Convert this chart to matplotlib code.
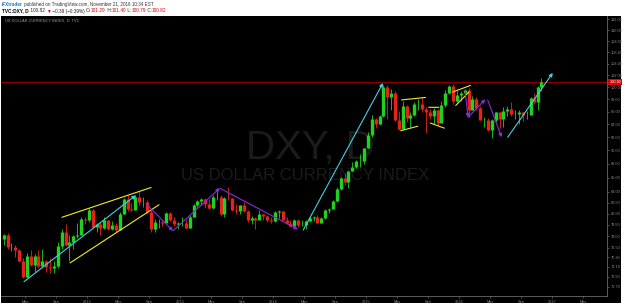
import matplotlib
matplotlib.use("Agg")
import matplotlib.pyplot as plt
from matplotlib.patches import Rectangle
from matplotlib.ticker import FixedLocator, NullLocator, StrMethodFormatter
import matplotlib.transforms as mtransforms
import numpy as np
import pandas as pd

plt.rcParams['font.family'] = ['Liberation Sans', 'DejaVu Sans']

# ---- data: semi-monthly DXY candles, Feb 2011 .. Nov 21 2016 ----
first_bar = "2011-02-01"
last_bar = "2016-11-21"
first_open = 77.7

closes_2011 = [78.2, 76.6, 76.6, 76.2, 74.9, 72.9, 75.5, 74.3, 75.5, 74.2, 74.8, 74.1,
               74.0, 74.2, 76.7, 78.5, 76.9, 77.2, 78.0, 78.2, 80.3, 80.2]
highs_2011 = [78.3, 78.4, 77.1, 76.9, 76.4, 75.2, 75.9, 76.2, 75.7, 76.2, 76.3, 75.0,
              75.2, 74.8, 77.3, 78.9, 79.6, 78.2, 78.2, 79.8, 80.6, 80.6]
lows_2011 = [76.9, 76.3, 76.1, 75.3, 74.7, 72.8, 72.7, 74.2, 73.5, 74.0, 74.2, 73.5,
             73.4, 73.4, 74.0, 76.3, 76.7, 74.9, 76.3, 77.8, 78.1, 79.6]

closes_2012 = [81.5, 79.2, 79.6, 79.1, 80.1, 78.9, 79.5, 78.8, 81.0, 83.0, 81.6, 81.5,
               83.3, 82.6, 82.6, 81.2, 78.9, 79.9, 79.9, 79.8, 81.1, 80.1, 79.6, 79.8]
highs_2012 = [81.8, 81.6, 79.8, 79.9, 80.5, 80.1, 80.0, 79.7, 81.2, 83.2, 83.5, 82.5,
              83.6, 84.1, 83.3, 82.8, 81.5, 80.3, 80.3, 80.2, 81.2, 81.2, 80.5, 79.9]
lows_2012 = [79.9, 79.1, 78.6, 78.1, 78.9, 78.8, 78.8, 78.6, 78.8, 80.9, 81.4, 81.3,
             81.5, 82.1, 81.9, 81.0, 78.6, 78.6, 79.1, 79.3, 79.9, 80.0, 79.4, 79.0]

closes_2013 = [79.8, 79.1, 80.6, 82.2, 82.7, 83.0, 82.3, 81.8, 83.3, 83.3, 80.9, 83.2,
               83.1, 81.5, 81.3, 82.1, 81.4, 80.2, 80.4, 80.2, 80.9, 80.7, 80.1, 80.0]
highs_2013 = [80.6, 80.2, 80.8, 82.3, 82.9, 83.2, 83.1, 83.0, 83.5, 84.5, 83.5, 83.3,
              84.7, 83.2, 82.3, 82.2, 82.6, 81.5, 80.7, 80.6, 81.5, 81.0, 80.8, 80.6]
lows_2013 = [79.3, 79.0, 79.1, 80.5, 81.9, 82.2, 81.8, 81.6, 81.6, 82.8, 80.7, 80.5,
             82.8, 81.4, 80.9, 81.0, 81.2, 79.9, 79.6, 79.0, 80.1, 80.2, 79.9, 79.8]

closes_2014 = [81.2, 81.3, 80.2, 79.7, 79.4, 80.1, 79.5, 79.5, 80.0, 80.4, 80.6, 79.8,
               80.4, 81.5, 81.6, 82.7, 84.4, 86.0, 85.4, 86.9, 87.6, 88.4, 88.4, 90.3]
highs_2014 = [81.4, 81.5, 81.4, 80.5, 80.2, 80.3, 80.3, 80.1, 80.1, 80.6, 80.7, 80.8,
              80.5, 81.6, 81.8, 82.8, 84.6, 86.1, 86.7, 87.0, 88.2, 88.5, 89.5, 90.3]
lows_2014 = [79.9, 80.4, 80.1, 79.6, 79.2, 79.3, 79.2, 79.3, 78.9, 79.9, 80.0, 79.7,
             79.8, 80.3, 81.1, 81.6, 82.6, 84.3, 85.0, 84.5, 86.9, 87.4, 87.6, 88.0]

closes_2015 = [92.4, 94.8, 94.1, 95.3, 100.0, 98.4, 99.0, 94.6, 93.2, 96.9, 95.0, 95.5,
               97.3, 97.3, 96.5, 96.0, 95.3, 96.3, 94.2, 97.0, 99.0, 100.2, 97.8, 98.7]
highs_2015 = [92.8, 95.5, 95.0, 95.4, 100.4, 100.3, 99.7, 99.3, 96.1, 97.8, 97.0, 95.9,
              97.5, 98.0, 98.3, 96.8, 96.5, 96.6, 96.5, 97.7, 99.5, 100.3, 100.5, 99.3]
lows_2015 = [90.3, 92.0, 93.4, 93.9, 95.2, 94.8, 96.2, 94.5, 93.1, 93.4, 94.3, 93.5,
             95.3, 96.3, 95.9, 92.6, 94.9, 94.1, 93.8, 94.3, 96.7, 98.9, 97.2, 97.5]

closes_2016 = [99.0, 99.6, 96.2, 98.1, 96.6, 94.6, 94.6, 93.1, 94.7, 95.9, 94.8, 96.1,
               96.5, 95.6, 95.7, 96.0, 95.4, 95.5, 98.2, 97.5, 100.0, 100.82]
highs_2016 = [99.4, 99.7, 99.9, 98.6, 98.3, 96.9, 95.1, 95.0, 94.9, 95.9, 95.9, 96.7,
              96.9, 97.6, 96.2, 96.2, 96.0, 96.1, 98.4, 99.1, 100.2, 101.5]
lows_2016 = [97.8, 98.3, 95.2, 96.2, 96.2, 94.6, 93.6, 93.0, 91.9, 94.4, 93.4, 93.6,
             95.3, 95.3, 94.8, 94.1, 94.5, 94.9, 95.4, 97.3, 96.3, 99.4]

last_price = 100.82
price_ticks = [112, 110, 108, 106, 104, 102, 100, 98, 96, 94, 92, 90, 88, 86, 84,
               82.5, 81, 79.5, 78, 76.5, 75.3, 74.1, 72.9, 71.7]
time_ticks = ["2011-05-01", "2011-09-01", "2012-01-01", "2012-05-01", "2012-09-01",
              "2013-01-01", "2013-05-01", "2013-09-01", "2014-01-01", "2014-05-01",
              "2014-09-01", "2015-01-01", "2015-05-01", "2015-09-01", "2016-01-01",
              "2016-05-01", "2016-09-01", "2017-01-01", "2017-05-01"]
time_labels = ["May", "Sep", "2012", "May", "Sep", "2013", "May", "Sep", "2014", "May",
               "Sep", "2015", "May", "Sep", "2016", "May", "Sep", "2017", "May"]

# drawings on the chart: (date, price) vertices
cyan_1 = [("2011-04-27", 72.3), ("2012-07-10", 83.5)]
yellow_up = [("2011-09-24", 80.5), ("2012-09-09", 84.6)]
yellow_low = [("2011-10-26", 74.6), ("2012-10-10", 82.2)]
purple_1 = [("2012-08-24", 82.2), ("2012-12-04", 78.7), ("2013-06-05", 84.5), ("2014-04-07", 78.9)]
cyan_2 = [("2014-04-28", 78.8), ("2015-03-07", 100.7)]
yellow_a_up = [("2015-05-19", 97.9), ("2015-08-22", 98.3)]
yellow_a_low = [("2015-05-16", 93.0), ("2015-07-22", 93.7)]
yellow_b_up = [("2015-09-04", 96.7), ("2015-10-13", 96.7)]
yellow_b_low = [("2015-09-10", 94.2), ("2015-11-04", 93.4)]
yellow_c_up = [("2015-12-07", 99.2), ("2016-02-15", 100.3)]
yellow_c_low = [("2015-12-19", 97.0), ("2016-02-09", 99.2)]
purple_2a = [("2016-01-25", 99.5), ("2016-02-06", 95.1), ("2016-04-13", 98.0)]
purple_2b = [("2016-04-22", 97.9), ("2016-06-16", 92.0)]
cyan_3 = [("2016-07-10", 92.0), ("2017-01-04", 102.4)]

CYAN, YELLOW, PURPLE = "#3fd3e8", "#f2ea2a", "#8a2be2"
drawings = [(CYAN, cyan_1, True), (YELLOW, yellow_up, False), (YELLOW, yellow_low, False),
            (PURPLE, purple_1, True), (CYAN, cyan_2, True),
            (YELLOW, yellow_a_up, False), (YELLOW, yellow_a_low, False),
            (YELLOW, yellow_b_up, False), (YELLOW, yellow_b_low, False),
            (YELLOW, yellow_c_up, False), (YELLOW, yellow_c_low, False),
            (PURPLE, purple_2a, True), (PURPLE, purple_2b, True), (CYAN, cyan_3, True)]


def month_pos(d):
    d = pd.Timestamp(d)
    return (d.year - 2011) * 12 + d.month - 1 + (d.day - 1) / d.days_in_month


closes = closes_2011 + closes_2012 + closes_2013 + closes_2014 + closes_2015 + closes_2016
highs = highs_2011 + highs_2012 + highs_2013 + highs_2014 + highs_2015 + highs_2016
lows = lows_2011 + lows_2012 + lows_2013 + lows_2014 + lows_2015 + lows_2016
opens = [first_open] + closes[:-1]

starts = pd.date_range(first_bar, periods=len(closes), freq="SMS")
left = np.array([month_pos(d) for d in starts])
right = np.append(left[1:], month_pos(last_bar))
x = (left + right) / 2

W, H = 625, 306
fig = plt.figure(figsize=(W / 100, H / 100), dpi=100, facecolor="white")

# black chart background
fig.add_artist(Rectangle((1 / W, 3 / H), 620 / W, 287 / H, transform=fig.transFigure,
                         facecolor="black", edgecolor="none", zorder=0))

ax = fig.add_axes([1 / W, 10 / H, 606 / W, 280 / H])
ax.set_facecolor("black")

# watermark
ax.text(0.51, 0.53, "DXY, D", transform=ax.transAxes, ha="center", va="center",
        fontsize=29, color="#1b1b1b", zorder=1)
ax.text(0.502, 0.432, "US DOLLAR CURRENCY INDEX", transform=ax.transAxes, ha="center",
        va="center", fontsize=12, color="#1b1b1b", zorder=1)
ax.text(4 / 606, (296 - 21) / 280, "US DOLLAR CURRENCY INDEX, D, TVC", transform=ax.transAxes,
        ha="left", va="center", fontsize=2.9, color="#9a9a9a", zorder=5)

# candles
up = np.array(closes) >= np.array(opens)
colors = np.where(up, "#1fd21f", "#e8221a")
ax.vlines(x, lows, highs, colors=colors, lw=0.6, zorder=3)
ax.vlines(x, opens, closes, colors=colors, lw=2.4, zorder=3)

# last price line + label
ax.axhline(last_price, color="#8e0000", lw=0.8, zorder=2)
trans = mtransforms.blended_transform_factory(ax.transAxes, ax.transData)
ax.text(1.004, last_price, f"{last_price:.2f}", transform=trans, ha="left", va="center",
        fontsize=2.8, color="white", zorder=6, clip_on=False,
        bbox=dict(boxstyle="square,pad=0.25", facecolor="#e00000", edgecolor="none"))

# drawings
for color, pts, arrow in drawings:
    for (d0, p0), (d1, p1) in zip(pts[:-1], pts[1:]):
        ax.annotate("", xy=(month_pos(d1), p1), xytext=(month_pos(d0), p0),
                    arrowprops=dict(arrowstyle="-|>" if arrow else "-", color=color, lw=0.8,
                                    mutation_scale=5, shrinkA=0, shrinkB=0), zorder=4)

# axes
ax.set_yscale("log")
ax.set_ylim(70.6, 112.6)
ax.set_xlim(7 / 7.75, 613 / 7.75)
ax.yaxis.set_major_locator(FixedLocator(price_ticks))
ax.yaxis.set_minor_locator(NullLocator())
ax.yaxis.set_major_formatter(StrMethodFormatter("{x:.2f}"))
ax.yaxis.tick_right()
ax.set_xticks([month_pos(d) for d in time_ticks])
ax.set_xticklabels(time_labels)
ax.tick_params(axis="both", labelsize=2.8, colors="#8a8a8a", length=1.5, width=0.4, pad=1.2)
for side in ["left", "top"]:
    ax.spines[side].set_visible(False)
for side in ["right", "bottom"]:
    ax.spines[side].set_color("#6a6a6a")
    ax.spines[side].set_linewidth(0.6)

# header
t1 = fig.text(2 / W, 1 - 4.5 / H, "iFXtrader", fontsize=3.3, color="#1f6fd0",
              fontweight="bold", va="center")
ax.annotate(" published on TradingView.com, November 21, 2016 10:34 EST", xy=(1, 0.5),
            xycoords=t1, va="center", fontsize=3.3, color="#333333")

pieces = [("TVC:DXY, D", "black", "bold"), (" 100.82 ", "#222222", "normal"),
          ("\u25bc", "#e00000", "normal"), (" \u22120.39 (\u22120.39%) ", "#222222", "normal"),
          ("O:", "#222222", "normal"), ("101.29", "#e00000", "normal"),
          (" H:", "#222222", "normal"), ("101.40", "#e00000", "normal"),
          (" L:", "#222222", "normal"), ("100.79", "#e00000", "normal"),
          (" C:", "#222222", "normal"), ("100.82", "#e00000", "normal")]
prev = fig.text(2 / W, 1 - 11 / H, pieces[0][0], fontsize=3.4, color=pieces[0][1],
                fontweight=pieces[0][2], va="center")
for txt, col, wt in pieces[1:]:
    prev = ax.annotate(txt, xy=(1, 0.5), xycoords=prev, va="center", fontsize=3.4,
                       color=col, fontweight=wt)

fig.savefig("out.png", dpi=100, facecolor="white")
